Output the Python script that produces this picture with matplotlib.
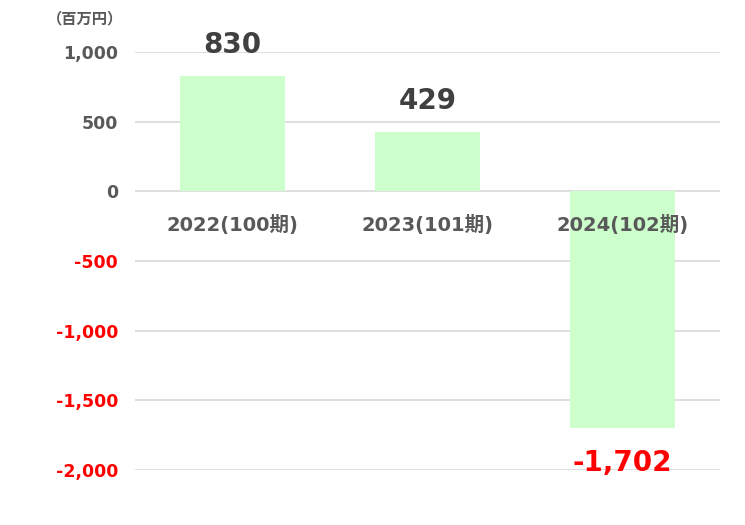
import matplotlib
matplotlib.use("Agg")
import matplotlib.pyplot as plt

plt.rcParams['font.family'] = ['DejaVu Sans', 'Noto Sans CJK JP']

categories = ["2022(100期)", "2023(101期)", "2024(102期)"]
values = [830, 429, -1702]
yticks = [1000, 500, 0, -500, -1000, -1500, -2000]
unit_label = "（百万円）"

bar_color = "#ccffcc"
gray = "#595959"
red = "#ff0000"

fig = plt.figure(figsize=(7.45, 5.25), dpi=100)
ax = fig.add_axes([0.181, 0.1048, 0.785, 0.7962])
x = list(range(len(categories)))
ax.bar(x, values, width=0.54, color=bar_color, zorder=2)
ax.set_xlim(-0.5, 2.5)
ax.set_ylim(-2000, 1000)
ax.set_yticks(yticks)
ax.set_yticklabels([f"{v:,}" for v in yticks], fontsize=12.5, fontweight='bold')
for lbl, v in zip(ax.get_yticklabels(), yticks):
    lbl.set_color(red if v < 0 else gray)
ax.tick_params(axis='y', length=0, pad=12)
ax.set_xticks([])
for s in ax.spines.values():
    s.set_visible(False)
ax.grid(axis='y', color='#d9d9d9', linewidth=1.2, zorder=1)
ax.set_axisbelow(True)

for xi, c in zip(x, categories):
    ax.text(xi, -244, c, ha='center', va='center', fontsize=14, fontweight='bold', color=gray, zorder=3)

for xi, v in zip(x, values):
    if v >= 0:
        ax.annotate(f"{v:,}", (xi, v), xytext=(0, 31), textcoords='offset pixels',
                    ha='center', va='center', fontsize=20, fontweight='bold', color='#404040')
    else:
        ax.annotate(f"{v:,}", (xi, v), xytext=(0, -35), textcoords='offset pixels',
                    ha='center', va='center', fontsize=20, fontweight='bold', color=red)

fig.text(85/745, 1-18/525, unit_label, ha='center', va='center', fontsize=11, fontweight='bold',
         color=gray, family=['Noto Sans CJK JP', 'DejaVu Sans'])

fig.savefig("out.png", dpi=100)
